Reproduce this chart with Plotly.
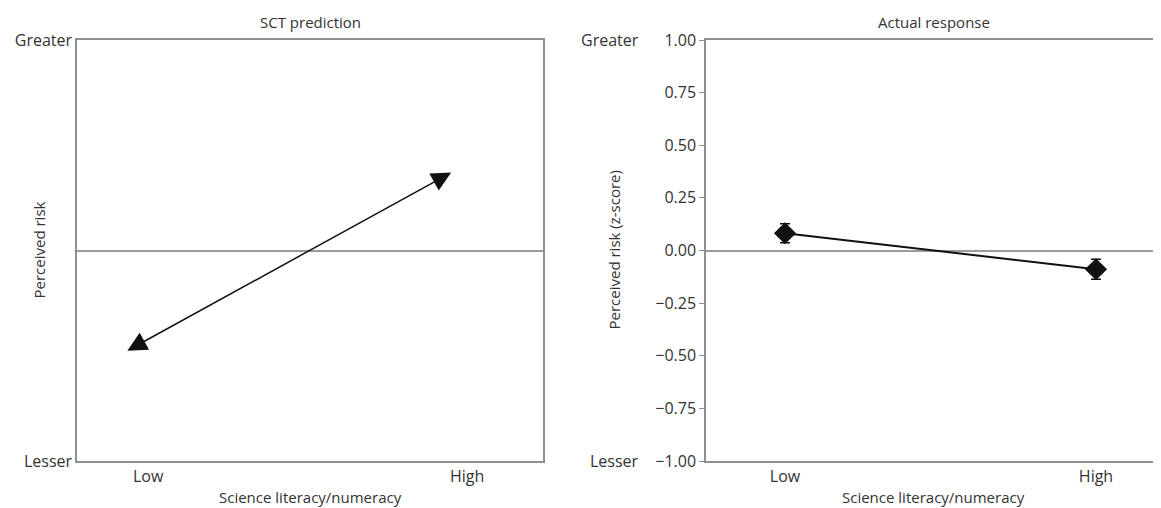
import plotly.graph_objects as go

# ---- data ----
categories = ["Low", "High"]
cat_pos = [0, 1]

# SCT prediction (schematic arrow, relative units)
sct_x = [-0.07, 0.95]
sct_y = [-0.48, 0.37]

# Actual response (z-score)
actual_y = [0.082, -0.089]
actual_err = [0.045, 0.047]

y_ticks = [-1.0, -0.75, -0.5, -0.25, 0.0, 0.25, 0.5, 0.75, 1.0]
risk_labels = ["Lesser", "Greater"]

FONT = "Open Sans"
TXT = "#333333"
GRAY = "#8f8f8f"
OFF = 8                      # page body margin
W, H = 1161 - OFF, 508 - OFF


def px_x(v):
    return (v - OFF) / W


def px_y(v):
    return 1 - (v - OFF) / H


fig = go.Figure()

fig.add_trace(go.Scatter(x=cat_pos, y=[0, 0], mode="markers",
                         marker=dict(opacity=0), hoverinfo="skip",
                         showlegend=False, xaxis="x", yaxis="y"))

fig.add_trace(go.Scatter(
    x=cat_pos, y=actual_y, mode="lines+markers",
    line=dict(color="#111111", width=2),
    marker=dict(symbol="diamond", size=17, color="#111111"),
    error_y=dict(type="data", array=actual_err, visible=True,
                 color="#111111", thickness=1.5, width=5),
    showlegend=False, xaxis="x2", yaxis="y2"))

dom_l = [px_x(77), px_x(543)]
dom_r = [px_x(706), 1.0]
ydom = [px_y(461), px_y(40)]

tickfont = dict(family=FONT, size=16, color=TXT)

fig.update_layout(
    width=W, height=H,
    margin=dict(l=0, r=0, t=0, b=0, autoexpand=False),
    paper_bgcolor="white", plot_bgcolor="white",
    font=dict(family=FONT, size=15, color=TXT),
    xaxis=dict(domain=dom_l, range=[-0.223, 1.238], tickvals=cat_pos,
               ticktext=categories, showline=True, mirror=True,
               linecolor=GRAY, linewidth=1.5, showgrid=False,
               zeroline=False, ticks="", anchor="y", automargin=False,
               tickfont=tickfont),
    yaxis=dict(domain=ydom, range=[-1, 1], tickvals=[-1, 1],
               ticktext=risk_labels, showline=True, mirror=True,
               linecolor=GRAY, linewidth=1.5, showgrid=False,
               zeroline=True, zerolinecolor="#9a9a9a", zerolinewidth=1.5,
               ticks="", anchor="x", automargin=False, tickfont=tickfont),
    xaxis2=dict(domain=dom_r, range=[-0.254, 1.209], tickvals=cat_pos,
                ticktext=categories, showline=True, mirror=True,
                linecolor=GRAY, linewidth=1.5, showgrid=False,
                zeroline=False, ticks="", anchor="y2", automargin=False,
                tickfont=tickfont),
    yaxis2=dict(domain=ydom, range=[-1, 1], tickvals=y_ticks,
                tickformat=".2f", showline=True, linecolor=GRAY,
                linewidth=1.5, showgrid=False, zeroline=True,
                zerolinecolor="#9a9a9a", zerolinewidth=1.5,
                ticks="outside", ticklen=5, tickcolor=GRAY, tickwidth=1.2,
                anchor="x2", automargin=False, tickfont=tickfont),
)

ann = []
ann.append(dict(x=sct_x[1], y=sct_y[1], ax=sct_x[0], ay=sct_y[0],
                xref="x", yref="y", axref="x", ayref="y",
                showarrow=True, arrowhead=2, startarrowhead=2,
                arrowside="end+start", arrowsize=2.6, startarrowsize=2.6,
                arrowwidth=1.5, arrowcolor="#111111", text=""))

ymid = (ydom[0] + ydom[1]) / 2
ann.append(dict(text="SCT prediction", x=(dom_l[0] + dom_l[1]) / 2,
                y=px_y(22), xref="paper", yref="paper", showarrow=False,
                xanchor="center", yanchor="middle"))
ann.append(dict(text="Actual response", x=(dom_r[0] + dom_r[1]) / 2,
                y=px_y(22), xref="paper", yref="paper", showarrow=False,
                xanchor="center", yanchor="middle"))
for d in (dom_l, dom_r):
    ann.append(dict(text="Science literacy/numeracy", x=(d[0] + d[1]) / 2,
                    y=px_y(497), xref="paper", yref="paper",
                    showarrow=False, xanchor="center", yanchor="middle"))
ann.append(dict(text="Perceived risk", x=px_x(38), y=ymid, xref="paper",
                yref="paper", textangle=-90, showarrow=False,
                xanchor="center", yanchor="middle"))
ann.append(dict(text="Perceived risk (z-score)", x=px_x(613), y=ymid,
                xref="paper", yref="paper", textangle=-90, showarrow=False,
                xanchor="center", yanchor="middle"))
ann.append(dict(text=risk_labels[1], x=px_x(641), y=ydom[1], xref="paper",
                yref="paper", showarrow=False, xanchor="right",
                yanchor="middle", font=tickfont))
ann.append(dict(text=risk_labels[0], x=px_x(641), y=ydom[0], xref="paper",
                yref="paper", showarrow=False, xanchor="right",
                yanchor="middle", font=tickfont))

fig.update_layout(annotations=ann)
fig.write_html("out.html")
